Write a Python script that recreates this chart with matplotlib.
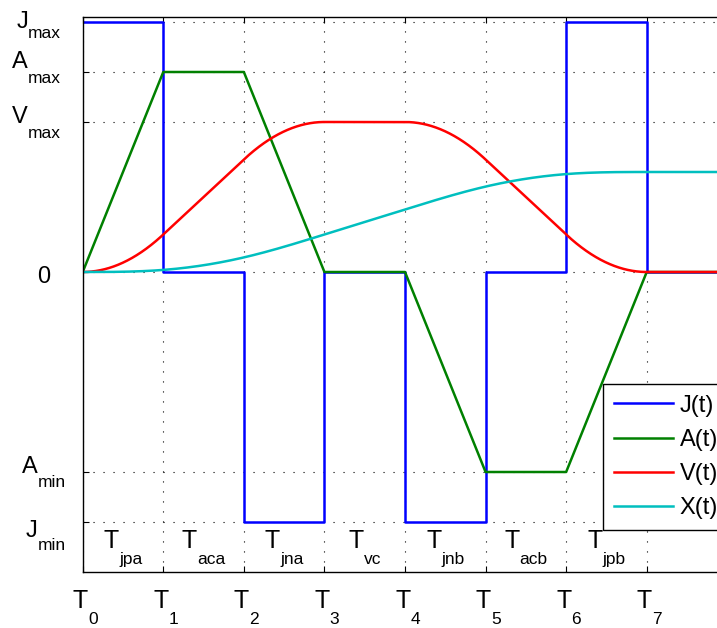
import numpy as np
import matplotlib
matplotlib.use('Agg')
import matplotlib.pyplot as plt

plt.rcParams['font.family'] = ['Liberation Sans', 'DejaVu Sans']

# switching instants T0..T7 and right end of the plot
t_nodes = [0, 1, 2, 3, 4, 5, 6, 7]
t_end = 8
# jerk level per segment (T0-T1 ... T6-T7, after T7)
jerk_levels = [5, 0, -5, 0, -5, 0, 5, 0]
# acceleration at T0..T7 (linear between)
acc_nodes = [0, 4, 4, 0, 0, -4, -4, 0]
# display levels of the y ticks
v_max_level = 3
x_final_level = 2
ytick_vals = [5, 4, 3, 0, -4, -5]
ytick_main = ['J', 'A', 'V', '0', 'A', 'J']
ytick_sub = ['max', 'max', 'max', '', 'min', 'min']
seg_sub = ['jpa', 'aca', 'jna', 'vc', 'jnb', 'acb', 'jpb']

# velocity / position: integrals of the acceleration, scaled to display levels
t = np.linspace(0, t_end, 8001)
acc = np.interp(t, t_nodes + [t_end], acc_nodes + [0])
dt = t[1] - t[0]
vel = np.concatenate([[0], np.cumsum((acc[1:] + acc[:-1]) / 2 * dt)])
vel = vel / vel.max() * v_max_level
pos = np.concatenate([[0], np.cumsum((vel[1:] + vel[:-1]) / 2 * dt)])
pos = pos / pos[-1] * x_final_level

fig = plt.figure(figsize=(7.17, 6.28), dpi=100)
ax = fig.add_axes([82.7 / 717, 56 / 628, 644.6 / 717, 555 / 628])

ax.step(t_nodes + [t_end], jerk_levels + [jerk_levels[-1]], where='post',
        color=(0, 0, 1), lw=1.8, label='J(t)')
ax.plot(t_nodes + [t_end], acc_nodes + [0], color=(0, 0.5, 0), lw=1.8, label='A(t)')
ax.plot(t, vel, color=(1, 0, 0), lw=1.8, label='V(t)')
ax.plot(t, pos, color=(0, 0.75, 0.75), lw=1.8, label='X(t)')

ax.set_xlim(0, t_end)
ax.set_ylim(-6, 5.1)
ax.set_xticks(t_nodes)
ax.set_yticks(ytick_vals)
ax.grid(True, color='k', linestyle=(0, (1, 8)), linewidth=0.8)
ax.tick_params(direction='in', length=4, width=0.8, top=True, right=True,
               labelleft=False, labelbottom=False)
for s in ax.spines.values():
    s.set_linewidth(1.0)

leg = ax.legend(loc='upper left', bbox_to_anchor=(603 / 717, 1 - 384 / 628),
                bbox_transform=fig.transFigure, fontsize=17, handlelength=2.5,
                handletextpad=0.3, borderpad=0.45, labelspacing=0.52,
                borderaxespad=0, fancybox=False, framealpha=1, edgecolor='k')
leg.get_frame().set_linewidth(1.0)

# labels with subscripts: main letter + lowered small text
pairs = []


def sub_label(xy, coords, main, sub, y_main, y_sub, anchor, x_off, size=18):
    a = ax.annotate(main, xy, xycoords=coords, xytext=(0, y_main), textcoords='offset pixels',
                    fontsize=size, va='baseline', ha='left', annotation_clip=False)
    b = ax.annotate(sub, xy, xycoords=coords, xytext=(0, y_sub), textcoords='offset pixels',
                    fontsize=12.5, va='baseline', ha='left', annotation_clip=False)
    pairs.append((a, b, y_main, y_sub, anchor, x_off))


# T0..T7 under the axis
for i, tn in enumerate(t_nodes):
    sub_label((tn, 0), ('data', 'axes fraction'), 'T', str(i), -36, -52, 'center', 2.5)

# segment names above the bottom axis
for i, name in enumerate(seg_sub):
    mid = (t_nodes[i] + t_nodes[i + 1]) / 2
    sub_label((mid, -5), 'data', 'T', name, -26, -42, 'center', 0)

# y labels (baselines)
y_offsets = [(-5.5, -15.5, -21.7), (4.3, -10.7, -21.7), (-0.7, -15.7, -21.7),
             (-10.7, -10.7, -32.7), (-1, -15, -16.7), (-15, -28, -16.7)]
for val, m, s, (ym, ys, xo) in zip(ytick_vals, ytick_main, ytick_sub, y_offsets):
    sub_label((0, val), ('axes fraction', 'data'), m, s, ym, ys, 'right', xo, size=17)

fig.canvas.draw()
r = fig.canvas.get_renderer()
for a, b, ym, ys, anchor, xo in pairs:
    wa = a.get_window_extent(r).width
    wb = b.get_window_extent(r).width if b.get_text() else 0
    if anchor == 'center':
        start = xo - (wa + wb) / 2
    else:
        start = xo - (wa + wb)
    a.xyann = (start, ym)
    b.xyann = (start + wa, ys)

plt.savefig('out.png', dpi=100)
